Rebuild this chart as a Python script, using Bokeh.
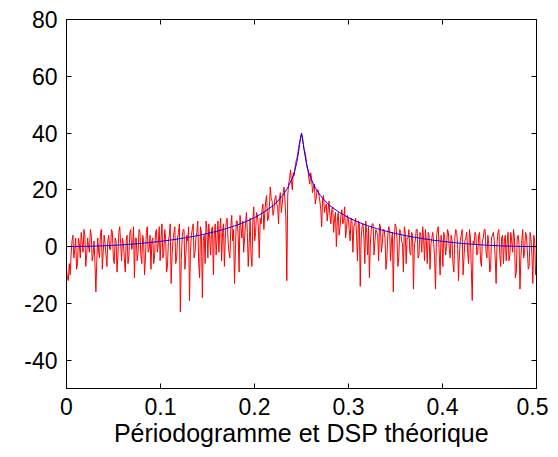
import numpy as np
from bokeh.plotting import figure
from bokeh.models import Range1d, FixedTicker, LinearAxis, CustomJSTickFormatter
from bokeh.embed import file_html
from bokeh.resources import INLINE

# Periodogram (dB): values on the grid k/512 ...
periodogram_db = [
    -8, -12, -10, 2, -4, 3, -6, 1, 5, -2, 4, -3, 0, 6, -5, 2,
    -16, 3, -4, 6, -2, 1, -7, 4, -1, 5, -6, 2, -3, 7, -5, 1,
    -9, 4, -3, 6, 0, -11, 3, -2, 5, -6, 2, -4, 7, -1, -8, 3,
    -3, 6, 1, -5, 8, -2, 3, -7, 4, -13, 2, 7, -4, 5, -23, 3,
    6, -3, 2, -19, 4, 8, -2, 5, -6, 7, -18, 4, 9, -4, 3, 6,
    -10, 8, 3, -2, 10, 5, -7, 9, 2, -4, 11, 6, -1, 9, -9, 7,
    9, 3, 12, -7, 10, -7, 14, 5, 11, -4, 8, 15, 12, 18, 10, 21,
    16, 13, 18, 14, 17, 12, 19, 16, -12, 22, 27, 20, 25, 30, 33, 37,
    39.5, 36, 33, 28, 24, 26, 19, 22, 17, 20, 16, 7, 18, 14, 9, 16,
    8, 14, 10, 0, 12, 7, 13, 9, 3, 11, 6, 10, -2, 8, 4, 9,
    -14, 7, 3, 9, -3, -11, 6, 8, 2, 5, -5, 7, 1, 6, -8, 4,
    6, 2, -16, 8, 3, -4, 5, 1, 7, -6, 3, -2, 5, -15, 2, 6,
    -3, 4, 7, -5, 2, 5, -8, 3, 1, -15, 6, -2, 4, -7, 3, 0,
    5, -4, 2, -9, 6, 1, -3, 4, -10, 2, 5, -6, 3, -19, 1, 4,
    -2, 5, -7, 3, 6, -4, 1, -8, 4, 2, -13, 5, -3, 3, -6, 4,
    1, -5, 5, -2, 3, -9, 4, -15, 2, -4, 5, -1, -7, 3, -13, 2, -6,
]
# ... and the values between them (grid (k+0.5)/512)
periodogram_db_mid = [
    -11, -6, -3, 4, -1, -8, 3, -4, 2, 6, -7, 3, -2, 4, -3, -6,
    -5, -2, 5, -8, 4, -3, 2, -1, 6, -4, 3, -9, 5, 1, 3, -4,
    2, -6, 5, -1, 7, 3, -5, 6, -3, 4, -10, 5, -2, 4, 2, -6,
    5, -2, 7, 3, -4, 6, -9, 2, 8, -3, 5, -6, 3, 8, -5, 6,
    -8, 4, 7, -2, 6, -4, 3, 9, -11, 5, 2, -6, 6, 8, -3, 7,
    4, -3, 9, 6, -5, 8, 3, 10, -2, 7, 2, -13, 9, 4, 11, 3,
    -2, 8, 5, 1, -3, 9, 2, 12, 7, 10, 13, 6, 16, 9, 14, 17,
    11, 17, 15, 8, 19, 15, 21, 10, 18, 24, 23, 26, 28, 31, 35, 38,
    38, 34, 31, 27, 22, 24, 21, 15, 20, 18, 13, 17, 12, 15, 13, 11,
    13, 5, 12, 9, 4, 11, 8, 14, 6, 10, 2, 9, 7, 10, -5, 8,
    3, 8, -6, 5, 7, 1, 8, -3, 6, 4, 8, -2, 6, 3, -4, 7,
    -5, 5, 2, 7, -7, 6, 2, -9, 5, 3, 6, -3, 4, 1, 6, -4,
    5, -2, 3, 6, -6, 4, 1, 5, -4, 3, 7, -10, 2, 5, -3, 6,
    -1, 4, -6, 3, 5, -12, 2, 6, -4, 3, -2, 6, -8, 2, 5, -3,
    4, -5, 2, 6, -2, 4, -9, 3, 5, -4, 1, 6, -7, 4, 2, -5,
    5, -3, 2, 6, -11, 3, 1, -4, 6, -2, 4, -8, 5, -3, 4, -10,
]
red_db = np.empty(len(periodogram_db) + len(periodogram_db_mid))
red_db[0::2] = periodogram_db
red_db[1::2] = periodogram_db_mid
red_f = np.linspace(0, 0.5, len(red_db))

# Theoretical PSD (dB)
dsp_f = [0, 0.01, 0.02, 0.03, 0.04, 0.05, 0.06, 0.07, 0.08, 0.09, 0.10,
         0.11, 0.12, 0.13, 0.14, 0.15, 0.16, 0.17, 0.18, 0.19, 0.20,
         0.21, 0.22, 0.225, 0.23, 0.235, 0.24, 0.2425, 0.245, 0.2475, 0.248, 0.249, 0.25,
         0.251, 0.252, 0.2525, 0.255, 0.2575, 0.26, 0.265, 0.27, 0.275, 0.28,
         0.29, 0.30, 0.31, 0.32, 0.33, 0.34, 0.35, 0.36, 0.37, 0.38, 0.39,
         0.40, 0.41, 0.42, 0.43, 0.44, 0.45, 0.46, 0.47, 0.48, 0.49, 0.50]
dsp_db = [0, 0.02, 0.07, 0.16, 0.28, 0.44, 0.63, 0.87, 1.15, 1.47, 1.84,
          2.26, 2.75, 3.29, 3.91, 4.61, 5.42, 6.34, 7.41, 8.68, 10.2,
          12.1, 14.5, 16.1, 18.0, 20.5, 23.9, 26.3, 29.6, 34.6, 35.9, 38.55, 40.0,
          38.55, 35.9, 34.6, 29.6, 26.3, 23.9, 20.5, 18.0, 16.1, 14.5,
          12.1, 10.2, 8.68, 7.41, 6.34, 5.42, 4.61, 3.91, 3.29, 2.75, 2.26,
          1.84, 1.47, 1.15, 0.87, 0.63, 0.44, 0.28, 0.16, 0.07, 0.02, 0]

x_ticks = [0, 0.1, 0.2, 0.3, 0.4, 0.5]
y_ticks = [-40, -20, 0, 20, 40, 60, 80]

FONT = "Liberation Sans"

p = figure(width=548, height=453, output_backend="svg", toolbar_location=None,
           x_range=Range1d(0, 0.5), y_range=Range1d(-50, 80),
           min_border_left=66, min_border_right=12, min_border_top=19, min_border_bottom=65,
           x_axis_label="Périodogramme et DSP théorique")
p.background_fill_color = "white"
p.border_fill_color = "white"
p.outline_line_color = "black"
p.outline_line_width = 1
p.grid.visible = False

p.line(red_f, red_db, line_color="#ff0000", line_width=1)
p.line(dsp_f, dsp_db, line_color="#0000ff", line_width=1)

fmt = CustomJSTickFormatter(code="return tick == 0 ? '0' : (Math.abs(tick) < 1 ? tick.toFixed(1) : tick.toFixed(0));")

def style(ax, labels=True):
    ax.axis_line_color = "black"
    ax.major_tick_in = 5
    ax.major_tick_out = 0
    ax.minor_tick_in = 0
    ax.minor_tick_out = 0
    ax.major_tick_line_color = "black"
    ax.major_label_text_font = FONT
    ax.major_label_text_font_size = "23px"
    ax.major_label_text_color = "black" if labels else None
    ax.axis_label_text_font = FONT
    ax.axis_label_text_font_size = "25px"
    ax.axis_label_text_font_style = "normal"
    ax.axis_label_text_color = "black"

xa = p.xaxis[0]
xa.ticker = FixedTicker(ticks=x_ticks)
xa.formatter = fmt
style(xa)
xa.major_label_standoff = 9
xa.axis_label_standoff = 1

ya = p.yaxis[0]
ya.ticker = FixedTicker(ticks=y_ticks)
ya.formatter = fmt
style(ya)
ya.major_label_standoff = 9

top = LinearAxis(ticker=FixedTicker(ticks=x_ticks), formatter=fmt)
style(top, labels=False)
top.major_label_text_font_size = "0px"
p.add_layout(top, "above")
right = LinearAxis(ticker=FixedTicker(ticks=y_ticks), formatter=fmt)
style(right, labels=False)
right.major_label_text_font_size = "0px"
p.add_layout(right, "right")

open("out.html", "w").write(file_html(p, INLINE))
